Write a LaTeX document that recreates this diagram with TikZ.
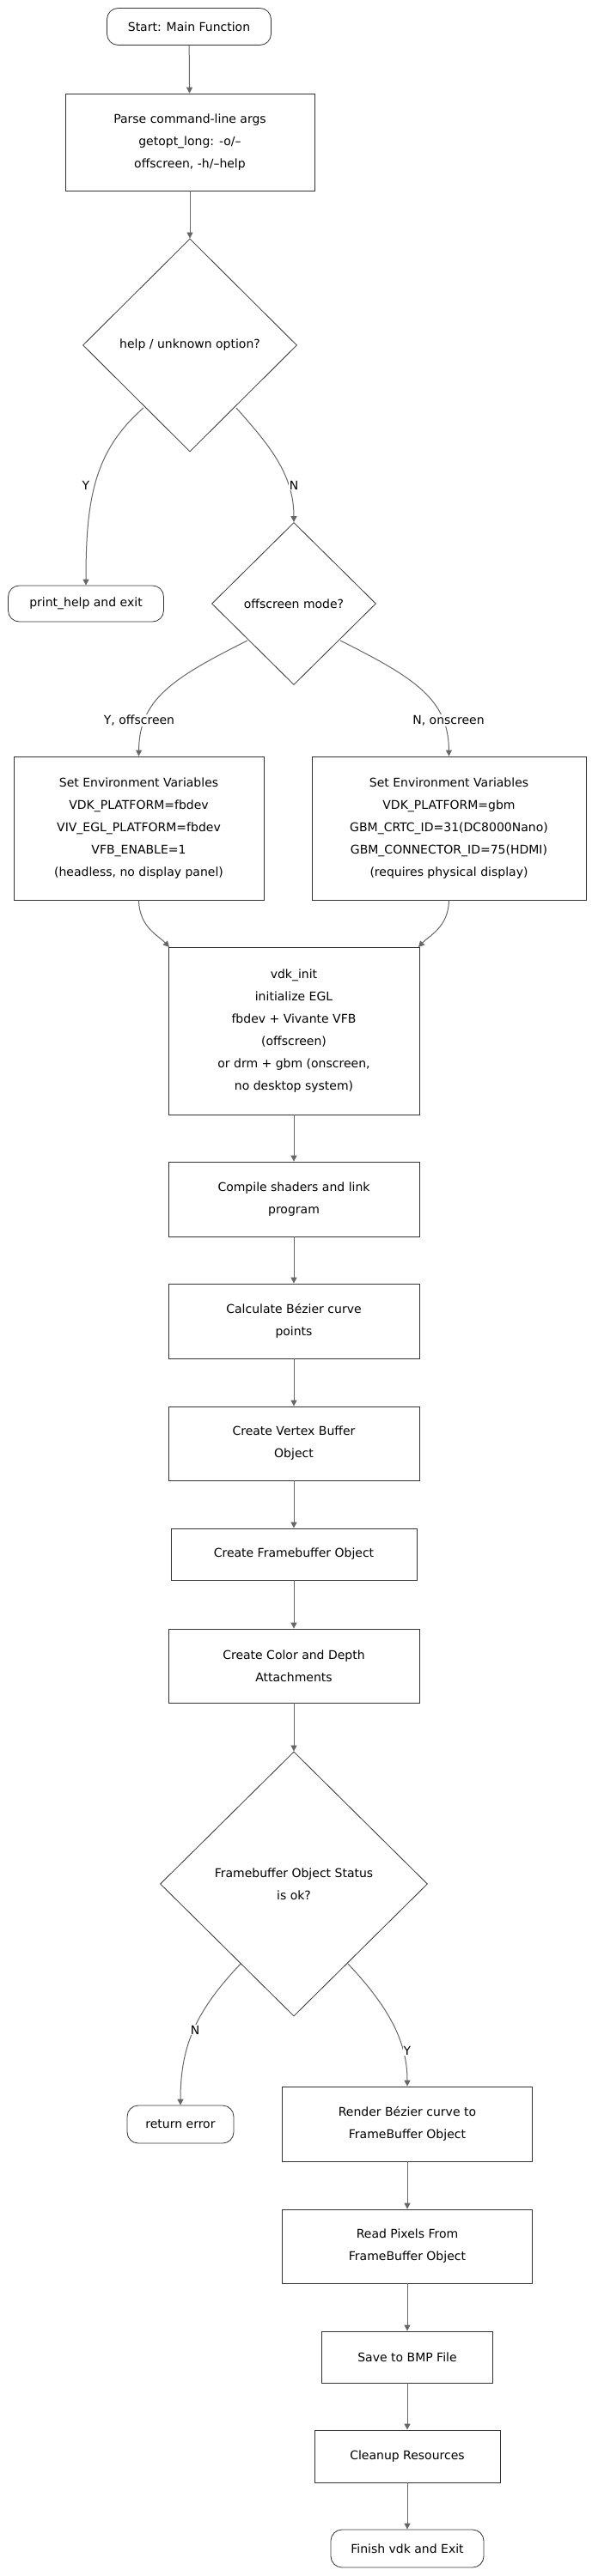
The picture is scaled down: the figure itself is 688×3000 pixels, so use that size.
\documentclass[tikz,border=0pt]{standalone}
\usepackage{fontspec}
\setmainfont{DejaVu Sans}
\usetikzlibrary{shapes.geometric,arrows.meta}
\definecolor{ln}{HTML}{666666}
\definecolor{bd}{HTML}{333333}
\begin{document}
\begin{tikzpicture}[x=1pt,y=-1pt,
  every node/.style={font=\fontsize{14}{26}\selectfont, text=black},
  box/.style={draw=bd, line width=0.8pt, fill=white, align=center, inner sep=0pt},
  term/.style={draw=bd, line width=0.8pt, fill=white, rounded corners=13pt, align=center, inner sep=0pt},
  dia/.style={draw=bd, line width=0.8pt, fill=white, diamond, inner sep=0pt, align=center},
  lab/.style={fill=white, inner sep=1pt},
  arr/.style={draw=ln, line width=1pt, -{Triangle[length=7pt,width=7pt]}}]
\useasboundingbox (0,0) rectangle (688,3000);
\node[term, minimum width=191, minimum height=43] (start) at (220,31) {Start: Main Function};
\node[box, minimum width=290, minimum height=113] (parse) at (221,165.5) {Parse command-line args\\getopt\_long: -o/--\\offscreen, -h/--help};
\node[dia, minimum width=249, minimum height=248] (d1) at (221,402) {help / unknown option?};
\node[term, minimum width=181, minimum height=42] (help) at (100,703) {print\_help and exit};
\node[dia, minimum width=191, minimum height=189] (d2) at (342,703) {offscreen mode?};
\node[box, minimum width=291, minimum height=167] (env1) at (161.5,964.5) {Set Environment Variables\\VDK\_PLATFORM=fbdev\\VIV\_EGL\_PLATFORM=fbdev\\VFB\_ENABLE=1\\(headless, no display panel)};
\node[box, minimum width=319, minimum height=167] (env2) at (522.5,964.5) {Set Environment Variables\\VDK\_PLATFORM=gbm\\GBM\_CRTC\_ID=31(DC8000Nano)\\GBM\_CONNECTOR\_ID=75(HDMI)\\(requires physical display)};
\node[box, minimum width=292, minimum height=195] (vdk) at (342,1200.5) {vdk\_init\\initialize EGL\\fbdev + Vivante VFB\\(offscreen)\\or drm + gbm (onscreen,\\no desktop system)};
\node[box, minimum width=292, minimum height=87] (comp) at (342,1396.5) {Compile shaders and link\\program};
\node[box, minimum width=292, minimum height=87] (calc) at (342,1538.5) {Calculate Bézier curve\\points};
\node[box, minimum width=292, minimum height=86] (vbo) at (342,1681) {Create Vertex Buffer\\Object};
\node[box, minimum width=286, minimum height=60] (fbo) at (342,1810) {Create Framebuffer Object};
\node[box, minimum width=292, minimum height=86] (col) at (342,1940) {Create Color and Depth\\Attachments};
\node[dia, minimum width=311, minimum height=308] (d3) at (342,2194) {Framebuffer Object Status\\is ok?};
\node[term, minimum width=124, minimum height=44] (err) at (210,2474) {return error};
\node[box, minimum width=291, minimum height=87] (rend) at (474,2473.5) {Render Bézier curve to\\FrameBuffer Object};
\node[box, minimum width=291, minimum height=86] (read) at (474,2616) {Read Pixels From\\FrameBuffer Object};
\node[box, minimum width=199, minimum height=60] (save) at (474,2745) {Save to BMP File};
\node[box, minimum width=216, minimum height=61] (clean) at (474,2860.5) {Cleanup Resources};
\node[term, minimum width=178, minimum height=44] (fin) at (474,2968) {Finish vdk and Exit};
% straight arrows
\draw[arr] (start) -- (parse);
\draw[arr] (parse) -- (d1);
\draw[arr] (vdk) -- (comp);
\draw[arr] (comp) -- (calc);
\draw[arr] (calc) -- (vbo);
\draw[arr] (vbo) -- (fbo);
\draw[arr] (fbo) -- (col);
\draw[arr] (col) -- (d3);
\draw[arr] (rend) -- (read);
\draw[arr] (read) -- (save);
\draw[arr] (save) -- (clean);
\draw[arr] (clean) -- (fin);
% curved arrows
\coordinate (d1l) at (167,475); \coordinate (d1r) at (275,475);
\draw[arr] (d1l) .. controls (110,525) and (100,580) .. (help.north);
\draw[arr] (d1r) .. controls (310,515) and (342,550) .. (d2.north);
\coordinate (d2l) at (288,746); \coordinate (d2r) at (396,746);
\draw[arr] (d2l) .. controls (200,790) and (162,815) .. (env1.north);
\draw[arr] (d2r) .. controls (484,790) and (522,815) .. (env2.north);
\coordinate (v1) at (197,1103); \coordinate (v2) at (487,1103);
\draw[arr] (env1.south) .. controls (162,1080) and (185,1090) .. (v1);
\draw[arr] (env2.south) .. controls (522,1080) and (499,1090) .. (v2);
\coordinate (d3l) at (280,2287); \coordinate (d3r) at (405,2287);
\draw[arr] (d3l) .. controls (230,2340) and (210,2380) .. (err.north);
\draw[arr] (d3r) .. controls (455,2340) and (474,2380) .. (rend.north);
% labels
\node[lab] (ly) at (100,565) {Y};
\node[lab] (ln1) at (342,565) {N};
\node[lab] (lyo) at (162,839) {Y, offscreen};
\node[lab] (lno) at (522,839) {N, onscreen};
\node[lab] (ln3) at (227,2364) {N};
\node[lab] (ly3) at (474,2388) {Y};
\end{tikzpicture}
\end{document}
